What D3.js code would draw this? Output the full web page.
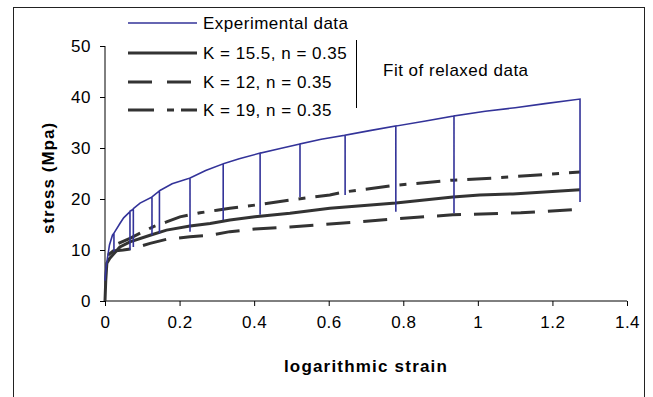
<!DOCTYPE html>
<html>
<head>
<meta charset="utf-8">
<script src="https://cdn.jsdelivr.net/npm/d3@7"></script>
<style>
  body { margin: 0; background: #fff; }
  svg { display: block; font-family: "Liberation Sans", Arial, sans-serif; }
</style>
</head>
<body>
<svg width="653" height="397"></svg>
<script>
// experimental curve, in drawing order (relaxation drops go down and back up)
const expStrain = [0, 0.003, 0.012, 0.02, 0.024, 0.024, 0.024, 0.04, 0.05, 0.067, 0.067, 0.067,
  0.076, 0.076, 0.076, 0.094, 0.126, 0.126, 0.126, 0.146, 0.146, 0.146, 0.18, 0.228, 0.228, 0.228,
  0.27, 0.317, 0.317, 0.317, 0.36, 0.416, 0.416, 0.416, 0.47, 0.523, 0.523, 0.523, 0.58, 0.644, 0.644, 0.644,
  0.71, 0.78, 0.78, 0.78, 0.86, 0.936, 0.936, 0.936, 1.02, 1.1, 1.18, 1.274, 1.274];
const expStress = [4.0, 6.7, 11.0, 12.9, 13.3, 9.7, 13.3, 15.2, 16.3, 17.5, 10.0, 17.6,
  18.0, 10.6, 18.1, 19.2, 20.4, 12.9, 20.4, 21.6, 13.3, 21.6, 23.0, 24.1, 13.6, 24.1,
  25.6, 26.9, 15.9, 26.9, 27.9, 29.0, 16.9, 29.0, 29.9, 30.8, 20.4, 30.8, 31.7, 32.5, 20.8, 32.5,
  33.4, 34.3, 17.5, 34.3, 35.3, 36.3, 17.2, 36.3, 37.2, 37.9, 38.7, 39.6, 19.4];

// fits of relaxed data
const fitMidStrain = [0, 0.002, 0.005, 0.013, 0.04, 0.067, 0.121, 0.165, 0.228, 0.282, 0.335, 0.402, 0.496, 0.603, 0.78, 0.933, 1.005, 1.094, 1.274];
const fitMidStress = [0, 4.0, 7.4, 8.4, 10.6, 11.6, 12.9, 13.9, 14.7, 15.2, 15.9, 16.5, 17.2, 18.2, 19.2, 20.4, 20.8, 21.0, 21.8];
const fitLowStrain = [0.008, 0.022, 0.049, 0.076, 0.121, 0.165, 0.228, 0.282, 0.335, 0.402, 0.496, 0.603, 0.78, 0.933, 1.115, 1.274];
const fitLowStress = [9.0, 9.8, 10.0, 10.3, 11.3, 12.1, 12.6, 12.9, 13.6, 14.1, 14.5, 15.1, 16.1, 16.9, 17.3, 18.0];
const fitHighStrain = [0.036, 0.067, 0.13, 0.165, 0.201, 0.255, 0.3, 0.335, 0.402, 0.496, 0.603, 0.644, 0.78, 0.933, 1.04, 1.274];
const fitHighStress = [11.3, 12.3, 14.6, 15.5, 16.5, 17.3, 17.8, 18.2, 18.8, 19.8, 20.8, 21.4, 22.7, 23.7, 24.1, 25.3];

const xTicks = [0, 0.2, 0.4, 0.6, 0.8, 1, 1.2, 1.4];
const yTicks = [0, 10, 20, 30, 40, 50];

const legendLabels = ["Experimental data", "K = 15.5, n = 0.35", "K = 12, n = 0.35", "K = 19, n = 0.35"];

const svg = d3.select("svg");
const dark = "#333333", blue = "#333399";

// outer frame
svg.append("rect").attr("x", 13.5).attr("y", 7.5).attr("width", 631).attr("height", 400)
  .attr("fill", "none").attr("stroke", "#222").attr("stroke-width", 1);

const x = d3.scaleLinear().domain([0, 1.4]).range([105, 627]);
const y = d3.scaleLinear().domain([0, 50]).range([301, 46]);

// axes
const xAxis = svg.append("g").attr("transform", "translate(0,301)")
  .call(d3.axisBottom(x).tickValues(xTicks).tickSize(5).tickPadding(10).tickFormat(d3.format("")));
const yAxis = svg.append("g").attr("transform", "translate(105,0)")
  .call(d3.axisLeft(y).tickValues(yTicks).tickSize(5).tickPadding(9));
[xAxis, yAxis].forEach(g => {
  g.select(".domain").attr("stroke", "#000");
  g.selectAll(".tick line").attr("stroke", "#000");
  g.selectAll("text").attr("font-size", 17).attr("fill", "#000").attr("letter-spacing", 0.5)
    .attr("font-family", "Liberation Sans, Arial, sans-serif");
});
xAxis.select(".domain").attr("d", "M105,0H627");
yAxis.select(".domain").attr("d", "M0,301V46");

svg.append("text").attr("x", 366).attr("y", 372).attr("text-anchor", "middle")
  .attr("font-size", 17).attr("font-weight", "bold").attr("letter-spacing", 1.2)
  .text("logarithmic strain");
svg.append("text").attr("transform", "translate(54,178) rotate(-90)").attr("text-anchor", "middle")
  .attr("font-size", 17).attr("font-weight", "bold").attr("letter-spacing", 1)
  .text("stress (Mpa)");

const line = d3.line().x(d => x(d[0])).y(d => y(d[1]));
const zip = (a, b) => a.map((v, i) => [v, b[i]]);

const series = [
  { pts: zip(fitLowStrain, fitLowStress), dash: "24,13" },
  { pts: zip(fitMidStrain, fitMidStress), dash: null },
  { pts: zip(fitHighStrain, fitHighStress), dash: "24,10,7,10" }
];
series.forEach(s => {
  svg.append("path").attr("d", line(s.pts)).attr("fill", "none")
    .attr("stroke", dark).attr("stroke-width", 3).attr("stroke-dasharray", s.dash);
});

svg.append("path").attr("d", line(zip(expStrain, expStress))).attr("fill", "none")
  .attr("stroke", blue).attr("stroke-width", 1.6);

// legend
const legendStyles = [
  { color: blue, width: 1.3, dash: null },
  { color: dark, width: 3, dash: null },
  { color: dark, width: 3, dash: "24,15" },
  { color: dark, width: 3, dash: "26,13,7,7" }
];
const legendY = [23, 53, 82, 110];
legendLabels.forEach((lab, i) => {
  const st = legendStyles[i];
  svg.append("line").attr("x1", 128).attr("x2", 197).attr("y1", legendY[i]).attr("y2", legendY[i])
    .attr("stroke", st.color).attr("stroke-width", st.width).attr("stroke-dasharray", st.dash);
  svg.append("text").attr("x", 203).attr("y", legendY[i] + 6).attr("font-size", 17)
    .attr("letter-spacing", 0.5).text(lab);
});
svg.append("line").attr("x1", 356.5).attr("x2", 356.5).attr("y1", 40).attr("y2", 108)
  .attr("stroke", "#000").attr("stroke-width", 1);
svg.append("text").attr("x", 383).attr("y", 76).attr("font-size", 17)
  .attr("letter-spacing", 0.5).text("Fit of relaxed data");
</script>
</body>
</html>
